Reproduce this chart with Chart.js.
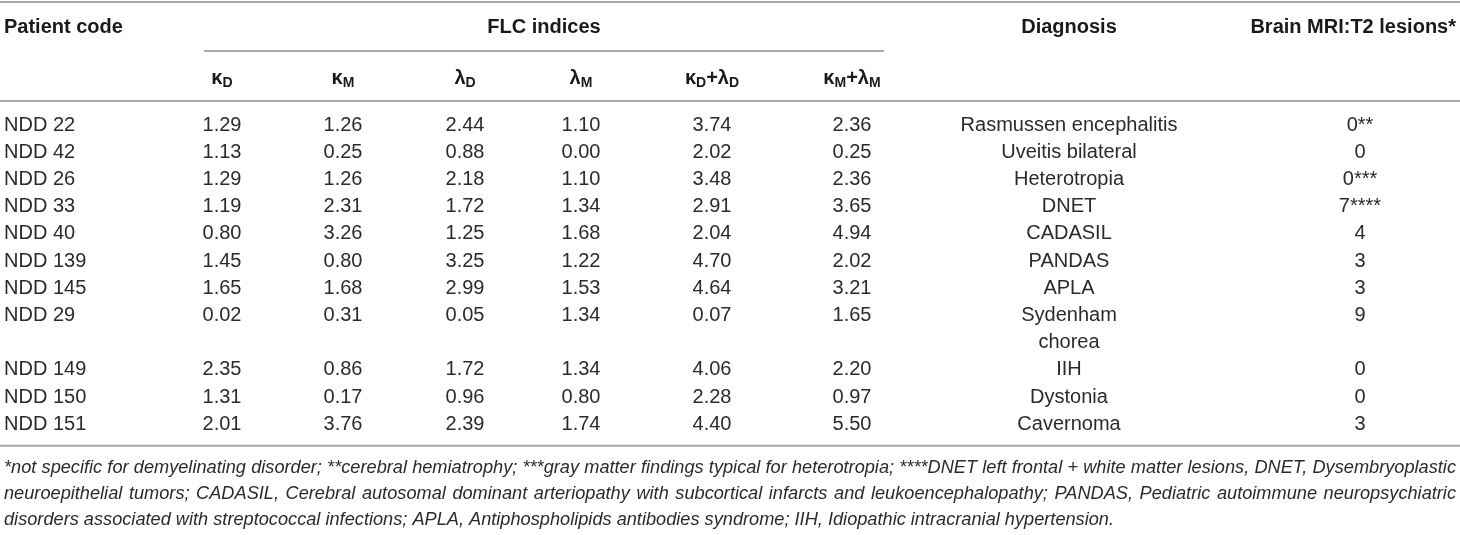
<!DOCTYPE html>
<html>
<head>
<meta charset="utf-8">
<script src="https://cdn.jsdelivr.net/npm/chart.js@4.4.1/dist/chart.umd.min.js"></script>
<style>
  html, body { margin: 0; padding: 0; background: #ffffff; }
  #wrap { width: 1460px; height: 535px; }
</style>
</head>
<body>
<div id="wrap"><canvas id="tabela_flc"></canvas></div>
<script>
// dados da tabela
const patientCodes = ['NDD 22', 'NDD 42', 'NDD 26', 'NDD 33', 'NDD 40', 'NDD 139', 'NDD 145', 'NDD 29', 'NDD 149', 'NDD 150', 'NDD 151'];
const kappaD = [1.29, 1.13, 1.29, 1.19, 0.80, 1.45, 1.65, 0.02, 2.35, 1.31, 2.01];
const kappaM = [1.26, 0.25, 1.26, 2.31, 3.26, 0.80, 1.68, 0.31, 0.86, 0.17, 3.76];
const lambdaD = [2.44, 0.88, 2.18, 1.72, 1.25, 3.25, 2.99, 0.05, 1.72, 0.96, 2.39];
const lambdaM = [1.10, 0.00, 1.10, 1.34, 1.68, 1.22, 1.53, 1.34, 1.34, 0.80, 1.74];
const kappaLambdaD = [3.74, 2.02, 3.48, 2.91, 2.04, 4.70, 4.64, 0.07, 4.06, 2.28, 4.40];
const kappaLambdaM = [2.36, 0.25, 2.36, 3.65, 4.94, 2.02, 3.21, 1.65, 2.20, 0.97, 5.50];
const diagnoses = ['Rasmussen encephalitis', 'Uveitis bilateral', 'Heterotropia', 'DNET', 'CADASIL', 'PANDAS', 'APLA', 'Sydenham\nchorea', 'IIH', 'Dystonia', 'Cavernoma'];
const lesions = ['0**', '0', '0***', '7****', '4', '3', '3', '9', '0', '0', '3'];

const flcHeaders = ['κ_D', 'κ_M', 'λ_D', 'λ_M', 'κ_D+λ_D', 'κ_M+λ_M'];
const footnotes = [
    '*not specific for demyelinating disorder; **cerebral hemiatrophy; ***gray matter findings typical for heterotropia; ****DNET left frontal + white matter lesions, DNET, Dysembryoplastic',
    'neuroepithelial tumors; CADASIL, Cerebral autosomal dominant arteriopathy with subcortical infarcts and leukoencephalopathy; PANDAS, Pediatric autoimmune neuropsychiatric',
    'disorders associated with streptococcal infections; APLA, Antiphospholipids antibodies syndrome; IIH, Idiopathic intracranial hypertension.'
];

// layout
const colPos = [4, 222, 343, 465, 581, 712, 852, 1069, 1360];
const FONT = '"Liberation Sans", Arial, sans-serif';
const BODY_SIZE = 20;
const TEXT_COLOR = '#2b2b2b';
const RULE_COLOR = '#a9a9a9';

// linha (slot) de cada paciente, contando diagnósticos em duas linhas
const rowSlots = [];
let slot = 0;
diagnoses.forEach(d => { rowSlots.push(slot); slot += d.split('\n').length; });
const totalSlots = slot;

function fmt(v) { return v.toFixed(2); }

const columns = [
    { texts: patientCodes, align: 'left' },
    { texts: kappaD.map(fmt) },
    { texts: kappaM.map(fmt) },
    { texts: lambdaD.map(fmt) },
    { texts: lambdaM.map(fmt) },
    { texts: kappaLambdaD.map(fmt) },
    { texts: kappaLambdaM.map(fmt) },
    { texts: diagnoses },
    { texts: lesions }
];

// texto com subscrito: 'κ_D' -> κ + D subscrito
function drawRich(ctx, str, cx, y, size) {
    const parts = [];
    for (let i = 0; i < str.length; i++) {
        if (str[i] === '_') { parts.push({ t: str[i + 1], sub: true }); i++; }
        else parts.push({ t: str[i], sub: false });
    }
    const subSize = Math.round(size * 0.72);
    let w = 0;
    parts.forEach(p => {
        ctx.font = 'bold ' + (p.sub ? subSize : size) + 'px ' + FONT;
        p.w = ctx.measureText(p.t).width;
        w += p.w;
    });
    let x = cx - w / 2;
    ctx.textAlign = 'left';
    parts.forEach(p => {
        ctx.font = 'bold ' + (p.sub ? subSize : size) + 'px ' + FONT;
        ctx.fillText(p.t, x, p.sub ? y + size * 0.28 : y);
        x += p.w;
    });
}

function drawJustified(ctx, line, x, y, width) {
    const words = line.split(' ');
    let wordsW = 0;
    words.forEach(wd => { wordsW += ctx.measureText(wd).width; });
    const gap = (width - wordsW) / (words.length - 1);
    let cx = x;
    ctx.textAlign = 'left';
    words.forEach(wd => {
        ctx.fillText(wd, cx, y);
        cx += ctx.measureText(wd).width + gap;
    });
}

const tablePlugin = {
    id: 'tablePlugin',
    afterDatasetsDraw(chart) {
        const ctx = chart.ctx;
        const area = chart.chartArea;
        const yScale = chart.scales.y;
        const step = yScale.getPixelForValue(1) - yScale.getPixelForValue(0);
        ctx.save();
        ctx.fillStyle = TEXT_COLOR;
        ctx.textBaseline = 'middle';

        // células
        chart.data.datasets.forEach((ds, di) => {
            const meta = chart.getDatasetMeta(di);
            ctx.font = BODY_SIZE + 'px ' + FONT;
            ctx.textAlign = ds.align || 'center';
            meta.data.forEach((el, i) => {
                const lines = String(ds.texts[i]).split('\n');
                lines.forEach((ln, k) => ctx.fillText(ln, el.x, el.y + k * step));
            });
        });

        // cabeçalho
        ctx.fillStyle = '#1a1a1a';
        ctx.font = 'bold ' + BODY_SIZE + 'px ' + FONT;
        ctx.textAlign = 'left';
        ctx.fillText('Patient code', colPos[0], 27);
        ctx.textAlign = 'center';
        ctx.fillText('FLC indices', (204 + 884) / 2, 27);
        ctx.fillText('Diagnosis', colPos[7], 27);
        ctx.textAlign = 'right';
        ctx.fillText('Brain MRI:T2 lesions*', 1456, 27);
        flcHeaders.forEach((h, j) => drawRich(ctx, h, colPos[j + 1], 78, BODY_SIZE));

        // linhas horizontais
        ctx.strokeStyle = RULE_COLOR;
        ctx.lineWidth = 2;
        const rule = (x0, x1, y) => { ctx.beginPath(); ctx.moveTo(x0, y); ctx.lineTo(x1, y); ctx.stroke(); };
        rule(0, 1460, 2);
        rule(204, 884, 51);
        rule(0, 1460, 101);
        rule(0, 1460, area.bottom + 8);

        // notas de rodapé (tamanho ajustado para a primeira linha ocupar a largura)
        ctx.fillStyle = TEXT_COLOR;
        ctx.font = 'italic 16px ' + FONT;
        const natural = ctx.measureText(footnotes[0]).width;
        const fnSize = Math.min(19, 16 * 1451 / natural);
        ctx.font = 'italic ' + fnSize.toFixed(2) + 'px ' + FONT;
        footnotes.forEach((ln, k) => {
            const y = area.bottom + 30 + k * 26.3;
            if (k < footnotes.length - 1) drawJustified(ctx, ln, 4, y, 1452);
            else { ctx.textAlign = 'left'; ctx.fillText(ln, 4, y); }
        });
        ctx.restore();
    }
};

const ctxTabela = document.getElementById('tabela_flc').getContext('2d');
new Chart(ctxTabela, {
    type: 'scatter',
    data: {
        datasets: columns.map((c, j) => ({
            label: 'col' + j,
            texts: c.texts,
            align: c.align,
            data: c.texts.map((t, i) => ({ x: colPos[j], y: rowSlots[i] })),
            pointRadius: 0,
            pointHoverRadius: 0
        }))
    },
    options: {
        responsive: true,
        maintainAspectRatio: false,
        animation: false,
        layout: { padding: { top: 111.4, bottom: 97.2, left: 0, right: 0 } },
        plugins: { legend: { display: false }, tooltip: { enabled: false } },
        scales: {
            x: { type: 'linear', display: false, min: 0, max: 1460 },
            y: { type: 'linear', display: false, min: -0.5, max: totalSlots - 0.5, reverse: true }
        }
    },
    plugins: [tablePlugin]
});
</script>
</body>
</html>
